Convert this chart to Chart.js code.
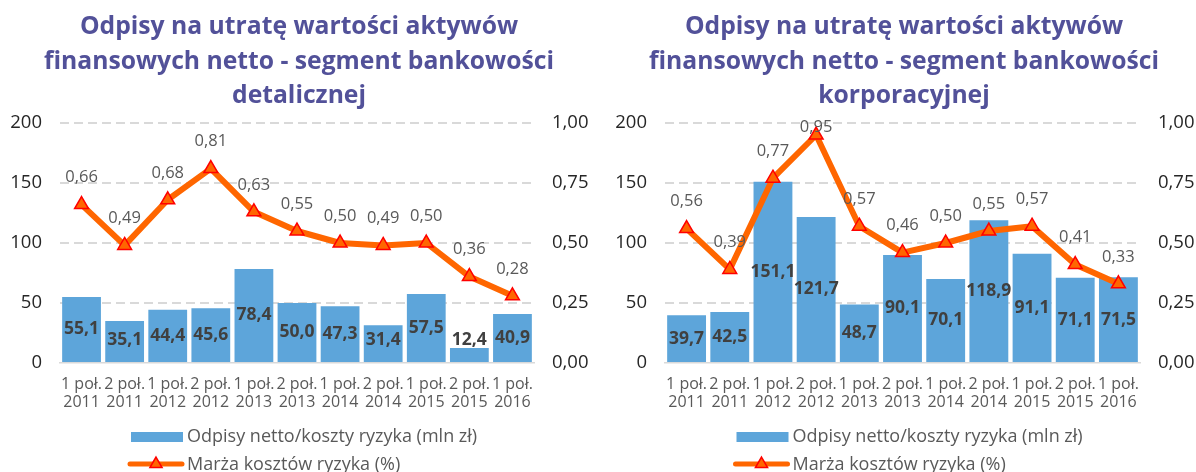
<!DOCTYPE html>
<html>
<head>
<meta charset="utf-8">
<script src="https://cdn.jsdelivr.net/npm/chart.js@4.4.1/dist/chart.umd.min.js"></script>
<style>
  html, body { margin: 0; padding: 0; background: #ffffff; }
  body { position: relative; width: 1196px; height: 472px; overflow: hidden; }
  .panel { position: absolute; top: 0; height: 472px; }
  canvas { display: block; }
</style>
</head>
<body>
<div class="panel" style="left:0;width:598px"><canvas id="retail" width="598" height="472"></canvas></div>
<div class="panel" style="left:612px;width:584px"><canvas id="corporate" width="584" height="472"></canvas></div>
<script>
// Half-year periods on the category axis (two-line labels)
const periods = [
  ['1 poł.', '2011'], ['2 poł.', '2011'], ['1 poł.', '2012'], ['2 poł.', '2012'],
  ['1 poł.', '2013'], ['2 poł.', '2013'], ['1 poł.', '2014'], ['2 poł.', '2014'],
  ['1 poł.', '2015'], ['2 poł.', '2015'], ['1 poł.', '2016']
];

// Retail banking segment
const retailTitle = ['Odpisy na utratę wartości aktywów', 'finansowych netto - segment bankowości', 'detalicznej'];
const retailProvisions = [55.1, 35.1, 44.4, 45.6, 78.4, 50.0, 47.3, 31.4, 57.5, 12.4, 40.9];
const retailCostOfRisk = [0.66, 0.49, 0.68, 0.81, 0.63, 0.55, 0.50, 0.49, 0.50, 0.36, 0.28];

// Corporate banking segment
const corporateTitle = ['Odpisy na utratę wartości aktywów', 'finansowych netto - segment bankowości', 'korporacyjnej'];
const corporateProvisions = [39.7, 42.5, 151.1, 121.7, 48.7, 90.1, 70.1, 118.9, 91.1, 71.1, 71.5];
const corporateCostOfRisk = [0.56, 0.39, 0.77, 0.95, 0.57, 0.46, 0.50, 0.55, 0.57, 0.41, 0.33];

// Axis ticks
const amountTicks = [0, 50, 100, 150, 200];
const marginTicks = [0, 0.25, 0.50, 0.75, 1.00];

// Series names
const provisionsName = 'Odpisy netto/koszty ryzyka (mln zł)';
const marginName = 'Marża kosztów ryzyka (%)';

const FONT = "'Open Sans', 'Noto Sans', sans-serif";
const BAR_BLUE = '#5da5da';
const LINE_ORANGE = '#ff6600';
const MARKER_RED = '#ff0000';
const TEXT_GREY = '#595959';

const plFixed = (v, d) => v.toFixed(d).replace('.', ',');

// Value labels: bar amounts inside the bars, margins above the markers
const valueLabels = {
  id: 'valueLabels',
  afterDatasetsDraw(chart) {
    const { ctx, chartArea } = chart;
    ctx.save();
    ctx.textAlign = 'center';
    ctx.textBaseline = 'middle';
    chart.data.datasets.forEach((ds, i) => {
      const meta = chart.getDatasetMeta(i);
      meta.data.forEach((el, j) => {
        const v = ds.data[j];
        if (meta.type === 'bar') {
          const p = el.getProps(['x', 'y', 'base'], true);
          const y = Math.min((p.y + p.base) / 2, p.base - 21.5);
          ctx.font = "bold 17.5px " + FONT;
          ctx.fillStyle = '#404040';
          ctx.fillText(plFixed(v, 1), p.x, y);
        } else {
          const p = el.getProps(['x', 'y'], true);
          const y = Math.max(p.y - 27, chartArea.top + 4);
          ctx.font = "16.5px " + FONT;
          ctx.fillStyle = TEXT_GREY;
          ctx.fillText(plFixed(v, 2), p.x, y);
        }
      });
    });
    ctx.restore();
  }
};

// Legend stacked in two rows under the category labels
const stackedLegend = {
  id: 'stackedLegend',
  afterDraw(chart) {
    const { ctx, chartArea } = chart;
    const [barDs, lineDs] = chart.data.datasets;
    const x0 = (chartArea.left + chartArea.right) / 2 - 166;
    const row1 = chartArea.bottom + 74;
    const row2 = chartArea.bottom + 101;
    ctx.save();
    // bar swatch
    ctx.fillStyle = barDs.backgroundColor;
    ctx.fillRect(x0, row1 - 5, 52, 10);
    // line swatch with marker
    ctx.strokeStyle = lineDs.borderColor;
    ctx.lineWidth = 5;
    ctx.lineCap = 'round';
    ctx.beginPath();
    ctx.moveTo(x0 - 1, row2);
    ctx.lineTo(x0 + 51, row2);
    ctx.stroke();
    ctx.fillStyle = lineDs.pointBackgroundColor;
    ctx.strokeStyle = lineDs.pointBorderColor;
    ctx.lineWidth = lineDs.pointBorderWidth;
    Chart.helpers.drawPoint(ctx, { pointStyle: 'triangle', radius: 7, borderWidth: lineDs.pointBorderWidth, rotation: 0 }, x0 + 25, row2);
    // texts
    ctx.font = "18px " + FONT;
    ctx.fillStyle = TEXT_GREY;
    ctx.textAlign = 'left';
    ctx.textBaseline = 'middle';
    ctx.fillText(barDs.label, x0 + 56, row1);
    ctx.fillText(lineDs.label, x0 + 56, row2 + 1);
    ctx.restore();
  }
};

function buildChart(canvasId, title, provisions, costOfRisk, widths) {
  return new Chart(document.getElementById(canvasId), {
    data: {
      labels: periods,
      datasets: [
        {
          type: 'bar',
          label: provisionsName,
          data: provisions,
          yAxisID: 'yAmount',
          backgroundColor: BAR_BLUE,
          borderWidth: 0,
          barPercentage: 0.9,
          categoryPercentage: 1.0,
          order: 1
        },
        {
          type: 'line',
          label: marginName,
          data: costOfRisk,
          yAxisID: 'yMargin',
          borderColor: LINE_ORANGE,
          borderWidth: 6,
          borderJoinStyle: 'round',
          borderCapStyle: 'round',
          tension: 0,
          pointStyle: 'triangle',
          pointRadius: 8,
          pointBackgroundColor: LINE_ORANGE,
          pointBorderColor: MARKER_RED,
          pointBorderWidth: 1.5,
          order: 0
        }
      ]
    },
    options: {
      responsive: false,
      animation: false,
      devicePixelRatio: 1,
      layout: { padding: { top: 0, left: 0, right: 0, bottom: 59 } },
      plugins: {
        legend: { display: false },
        tooltip: { enabled: false },
        title: {
          display: true,
          text: title,
          color: '#525199',
          font: { family: FONT, size: 24.7, weight: 'bold', lineHeight: '34.5px' },
          padding: { top: 10, bottom: 9.5 }
        }
      },
      scales: {
        x: {
          type: 'category',
          offset: true,
          grid: { display: false, drawTicks: false },
          border: { display: true, color: '#d9d9d9', width: 1.5 },
          ticks: {
            color: TEXT_GREY,
            padding: 12,
            maxRotation: 0,
            autoSkip: false,
            font: { family: FONT, size: 16, lineHeight: '18px' }
          },
          afterFit(scale) { scale.height = 50; }
        },
        yAmount: {
          type: 'linear',
          position: 'left',
          min: amountTicks[0],
          max: amountTicks[amountTicks.length - 1],
          afterBuildTicks(scale) { scale.ticks = amountTicks.map(v => ({ value: v })); },
          grid: {
            drawTicks: false,
            lineWidth: 2,
            color: c => (c.tick && c.tick.value === 0 ? 'rgba(0,0,0,0)' : '#d9d9d9')
          },
          border: { display: false, dash: [9, 5] },
          ticks: {
            color: '#262626',
            padding: 18,
            font: { family: FONT, size: 18.5 },
            callback: v => String(v)
          },
          afterFit(scale) { scale.width = widths[0]; }
        },
        yMargin: {
          type: 'linear',
          position: 'right',
          min: marginTicks[0],
          max: marginTicks[marginTicks.length - 1],
          afterBuildTicks(scale) { scale.ticks = marginTicks.map(v => ({ value: v })); },
          grid: { display: false, drawTicks: false },
          border: { display: false },
          ticks: {
            color: '#262626',
            padding: 18,
            font: { family: FONT, size: 18.5 },
            callback: v => plFixed(v, 2)
          },
          afterFit(scale) { scale.width = widths[1]; }
        }
      }
    },
    plugins: [valueLabels, stackedLegend]
  });
}

buildChart('retail', retailTitle, retailProvisions, retailCostOfRisk, [60, 64]);
buildChart('corporate', corporateTitle, corporateProvisions, corporateCostOfRisk, [53, 56]);
</script>
</body>
</html>
